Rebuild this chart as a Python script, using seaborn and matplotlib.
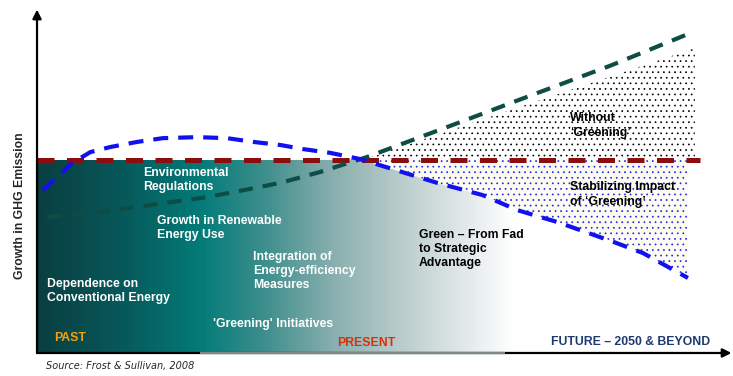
import numpy as np
import matplotlib
matplotlib.use("Agg")
import matplotlib.pyplot as plt
import seaborn as sns
from matplotlib.colors import LinearSegmentedColormap

# DATA (arbitrary units: time 0..100, emission 0..100)
blue_x = [0.9, 5.1, 7.7, 10.6, 14.5, 18.2, 23.2, 27.5, 31.3, 35.2, 38.5, 42.4, 46.7,
          57.9, 64.5, 69.5, 75.3, 83.4, 87.7, 94.2]
blue_y = [47.8, 55.7, 58.9, 60.4, 61.9, 63.0, 63.3, 63.0, 61.9, 61.0, 59.8, 58.7, 56.9,
          49.9, 46.3, 41.9, 38.4, 32.6, 29.3, 22.0]

green_x = [1.5, 9.1, 16.4, 24.6, 32.3, 35.6, 41.0, 47.8, 59.8, 71.3, 82.9, 94.9]
green_y = [39.9, 41.3, 43.4, 45.7, 48.7, 50.1, 53.1, 57.5, 66.6, 75.4, 84.2, 94.1]

red_x = [0.0, 96.0]
red_level = 56.6
red_y = [red_level, red_level]

cross_x = 46.7
wedge_x = [47.0, 95.2]
wedge_top = [56.6, 89.4]

# colours
c_blue = '#1010f0'
c_green = '#0d4d45'
c_red = '#8c0d0d'

sns.set_theme(style='white')
plt.rcParams['font.family'] = ['Liberation Sans', 'DejaVu Sans']
plt.rcParams['hatch.linewidth'] = 0.5

fig = plt.figure(figsize=(7.33, 3.76), dpi=100)
ax = fig.add_axes([0.0505, 0.0612, 0.9427, 0.9069])
ax.set_xlim(0, 100)
ax.set_ylim(0, 100)

# gradient area under the baseline / stabilised curve
bx = np.array(blue_x)
by = np.array(blue_y)
grad_x = np.concatenate([[0.0], bx])
grad_top = np.concatenate([[red_level], np.where(bx < cross_x, red_level, by)])
poly = ax.fill_between(grad_x, 0, grad_top, facecolor='none', linewidth=0)
cmap = LinearSegmentedColormap.from_list('teal', [
    (0.0, '#0a3f41'), (0.12, '#07585a'), (0.235, '#037b78'), (0.33, '#3e8f8d'),
    (0.43, '#8aafaf'), (0.53, '#bccdcd'), (0.62, '#e2e9e9'), (0.69, '#ffffff'),
    (1.0, '#ffffff')])
grad = np.linspace(0, 1, 600).reshape(1, -1)
im = ax.imshow(grad, cmap=cmap, extent=(0, 100, 0, 100), aspect='auto',
               origin='lower', zorder=1)
im.set_clip_path(poly.get_paths()[0], transform=ax.transData)

# dotted wedges
ax.fill_between(wedge_x, red_level, wedge_top, facecolor='white', edgecolor='black',
                hatch='...', linewidth=0, zorder=1.5)
keep = bx >= cross_x
ax.fill_between(bx[keep], by[keep], red_level, facecolor='#fcfcf0', edgecolor='#2020ff',
                hatch='...', linewidth=0, zorder=1.5)

# dashed lines
sns.lineplot(x=red_x, y=red_y, color=c_red, linewidth=3.6, ax=ax, zorder=3)
ax.lines[-1].set_dashes((3.4, 2.5))
sns.lineplot(x=green_x, y=green_y, color=c_green, linewidth=3.0, ax=ax, zorder=4)
ax.lines[-1].set_dashes((3.4, 2.4))
sns.lineplot(x=blue_x, y=blue_y, color=c_blue, linewidth=3.0, ax=ax, zorder=5)
ax.lines[-1].set_dashes((3.6, 2.4))

# axes arrows
ax.axis('off')
arr = dict(arrowstyle='-|>', color='black', lw=1.6, mutation_scale=13,
           shrinkA=0, shrinkB=0)
ax.annotate('', xy=(0, 100.7), xytext=(0, 0), arrowprops=arr, annotation_clip=False)
ax.annotate('', xy=(100.5, 0), xytext=(0, 0), arrowprops=arr, annotation_clip=False)
ax.plot([23.6, 67.7], [0, 0], color='#7f8b8b', lw=1.7, solid_capstyle='butt', zorder=6,
        clip_on=False)

# labels
fs = 8.8
white = dict(color='white', fontsize=fs, fontweight='bold', va='center', ha='left',
             linespacing=1.25, zorder=7)
ax.text(15.3, 50.7, 'Environmental\nRegulations', **white)
ax.text(17.4, 36.7, 'Growth in Renewable\nEnergy Use', **white)
ax.text(31.3, 24.0, 'Integration of\nEnergy-efficiency\nMeasures', **white)
ax.text(1.45, 18.2, 'Dependence on\nConventional Energy', **white)
ax.text(25.5, 8.5, "'Greening' Initiatives", **white)

black = dict(white, color='black')
ax.text(55.3, 30.5, 'Green \u2013 From Fad\nto Strategic\nAdvantage', **black)
ax.text(77.1, 66.7, 'Without\n\u2018Greening\u2019', **black)
ax.text(77.1, 46.5, 'Stabilizing Impact\nof \u2018Greening\u2019', **black)

ax.text(2.5, 4.4, 'PAST', color='#f5a00f', fontsize=fs, fontweight='bold', va='center',
        zorder=7)
ax.text(43.4, 2.9, 'PRESENT', color='#d5340a', fontsize=fs, fontweight='bold',
        va='center', zorder=7)
ax.text(74.4, 3.2, 'FUTURE \u2013 2050 & BEYOND', color='#1f3a6e', fontsize=fs,
        fontweight='bold', va='center', zorder=7)

fig.text(0.0273, 0.452, 'Growth in GHG Emission', rotation=90, fontsize=fs,
         fontweight='bold', ha='center', va='center')
fig.text(0.0628, 0.0266, 'Source: Frost & Sullivan, 2008', fontsize=7, style='italic',
         ha='left', va='center', family=['DejaVu Sans'])

fig.savefig('out.png', dpi=100)
